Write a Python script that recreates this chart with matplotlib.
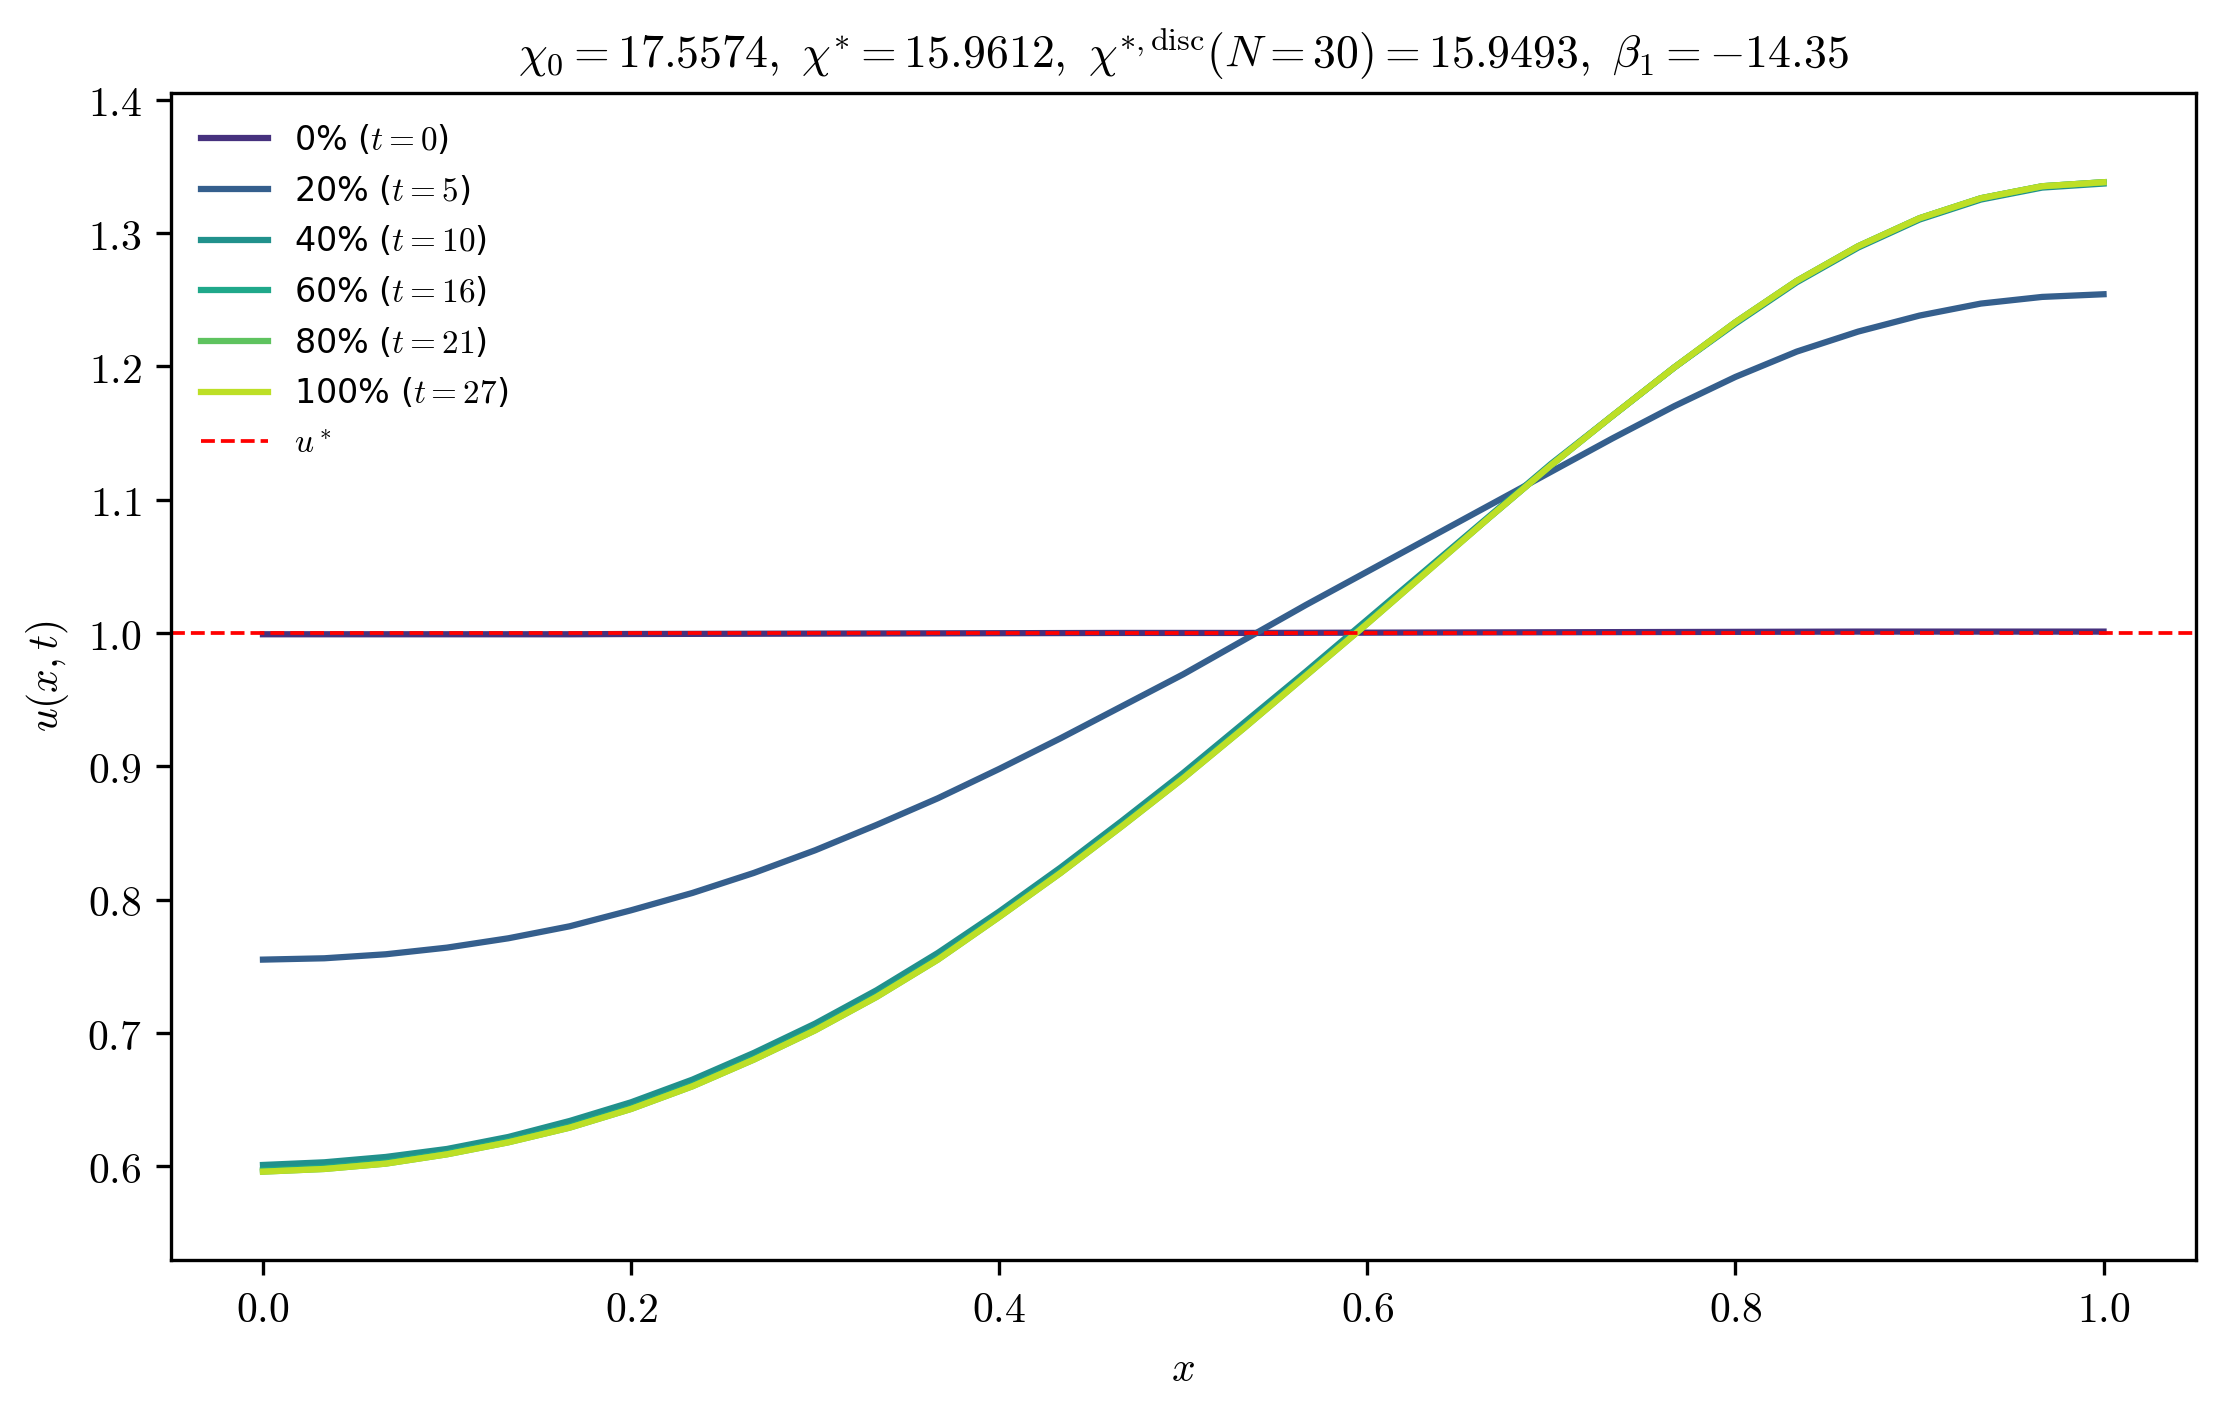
import numpy as np
import matplotlib
matplotlib.use('Agg')
import matplotlib.pyplot as plt

plt.rcParams['mathtext.fontset'] = 'cm'
plt.rcParams['axes.formatter.use_mathtext'] = True

x = [i / 30 for i in range(31)]

u0 = [0.999, 0.999, 0.999, 0.999, 0.999, 0.999, 0.9992, 0.9993, 0.9994, 0.9995,
      0.9996, 0.9997, 0.9998, 0.9999, 1.0, 1.0, 1.0, 1.0001, 1.0002, 1.0003,
      1.0004, 1.0005, 1.0006, 1.0007, 1.0008, 1.0009, 1.001, 1.001, 1.001, 1.001, 1.001]
u5 = [0.755, 0.756, 0.759, 0.764, 0.771, 0.780, 0.792, 0.805, 0.820, 0.837,
      0.856, 0.876, 0.898, 0.921, 0.945, 0.969, 0.995, 1.021, 1.046, 1.071,
      1.096, 1.121, 1.146, 1.170, 1.192, 1.211, 1.226, 1.238, 1.247, 1.252, 1.254]
u10 = [0.601, 0.603, 0.607, 0.613, 0.622, 0.634, 0.648, 0.665, 0.685, 0.707,
       0.732, 0.760, 0.791, 0.824, 0.859, 0.895, 0.933, 0.971, 1.010, 1.049,
       1.088, 1.127, 1.163, 1.199, 1.232, 1.263, 1.289, 1.310, 1.325, 1.334, 1.337]
u16 = [0.597, 0.599, 0.603, 0.610, 0.619, 0.630, 0.644, 0.661, 0.681, 0.703,
       0.728, 0.756, 0.788, 0.821, 0.856, 0.892, 0.930, 0.969, 1.008, 1.048,
       1.087, 1.126, 1.163, 1.199, 1.233, 1.264, 1.290, 1.311, 1.326, 1.335, 1.338]
u21 = [0.596, 0.598, 0.602, 0.609, 0.618, 0.629, 0.643, 0.660, 0.680, 0.702,
       0.727, 0.755, 0.787, 0.820, 0.855, 0.891, 0.929, 0.968, 1.007, 1.047,
       1.087, 1.126, 1.163, 1.199, 1.233, 1.264, 1.290, 1.311, 1.326, 1.335, 1.338]
u27 = [0.596, 0.598, 0.602, 0.609, 0.618, 0.629, 0.643, 0.660, 0.680, 0.702,
       0.727, 0.755, 0.787, 0.820, 0.855, 0.891, 0.929, 0.968, 1.007, 1.047,
       1.087, 1.126, 1.163, 1.199, 1.233, 1.264, 1.290, 1.311, 1.326, 1.335, 1.338]

curves = [u0, u5, u10, u16, u21, u27]
labels = ['0% ($t=0$)', '20% ($t=5$)', '40% ($t=10$)', '60% ($t=16$)',
          '80% ($t=21$)', '100% ($t=27$)']
colors = ['#46317e', '#355f8d', '#21918c', '#1fa88a', '#5ec35f', '#bddf26']

fig = plt.figure(figsize=[7.4, 4.697], dpi=300)
ax = fig.add_axes([0.077, 0.106, 0.912, 0.828])

for u, lab, col in zip(curves, labels, colors):
    ax.plot(x, u, color=col, linewidth=1.5, label=lab)
ax.axhline(1.0, color='red', linestyle='--', linewidth=0.9, label='$u^*$')

ax.set_xlim(-0.05, 1.05)
ax.set_ylim(0.53, 1.405)
ax.set_xticks(np.arange(0, 1.01, 0.2))
ax.set_yticks(np.arange(0.6, 1.41, 0.1))
ax.set_xticklabels(['$%.1f$' % v for v in np.arange(0, 1.01, 0.2)], fontsize=10)
ax.set_yticklabels(['$%.1f$' % v for v in np.arange(0.6, 1.41, 0.1)], fontsize=10)
ax.set_xlabel('$x$', fontsize=10)
ax.set_ylabel('$u(x,t)$', fontsize=10)
ax.set_title(r'$\chi_0=17.5574,\ \chi^{*}=15.9612,\ \chi^{*,\mathrm{disc}}(N=30)=15.9493,\ \beta_1=-14.35$',
             fontsize=11)
ax.legend(loc='upper left', fontsize=8, frameon=False)

fig.savefig('out.png', dpi=300)
